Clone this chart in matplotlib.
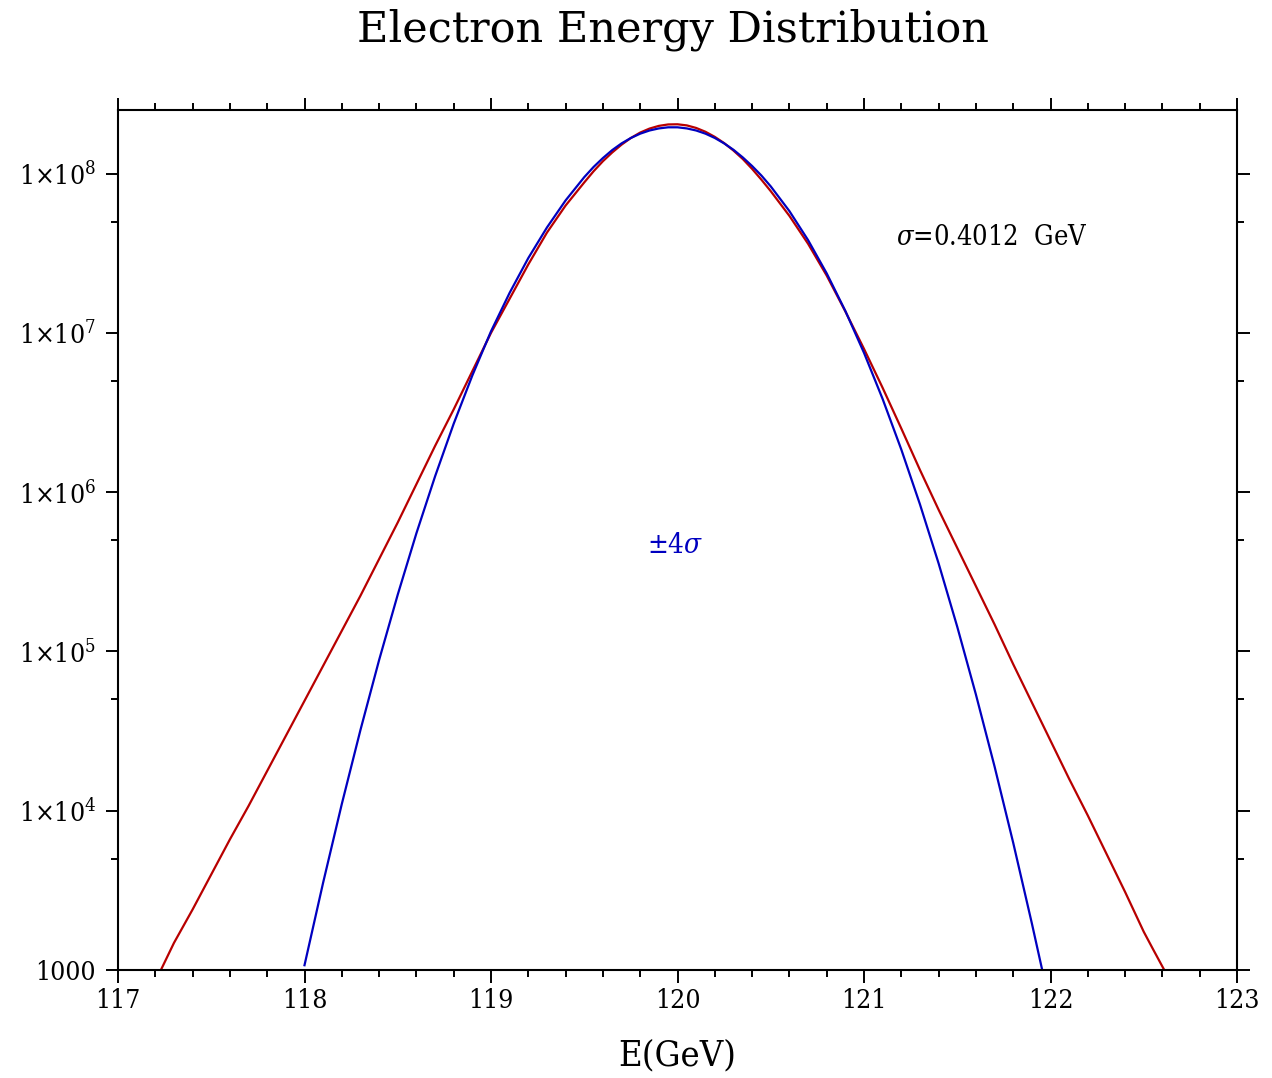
import numpy as np
import matplotlib
matplotlib.use("Agg")
import matplotlib.pyplot as plt
from matplotlib.ticker import FixedLocator, LogLocator, FuncFormatter, MultipleLocator

# energy [GeV] and log10(counts)
red_e = [117.23, 117.30, 117.40, 117.50, 117.60, 117.70, 117.80, 117.90,
         118.00, 118.10, 118.20, 118.30, 118.40, 118.50, 118.60, 118.70,
         118.80, 118.90, 119.00, 119.10, 119.20, 119.30, 119.40, 119.50,
         119.55, 119.60, 119.65, 119.70, 119.75, 119.80, 119.85, 119.90,
         119.95, 120.00, 120.05, 120.10, 120.15, 120.20, 120.25, 120.30,
         120.35, 120.40, 120.45, 120.50, 120.60, 120.70, 120.80, 120.90,
         121.00, 121.10, 121.20, 121.30, 121.40, 121.50, 121.60, 121.70,
         121.80, 121.90, 122.00, 122.10, 122.20, 122.30, 122.40, 122.50,
         122.55, 122.61]
red_log = [3.000, 3.170, 3.380, 3.600, 3.820, 4.030, 4.250, 4.470,
           4.690, 4.910, 5.130, 5.350, 5.580, 5.810, 6.050, 6.290,
           6.520, 6.760, 7.000, 7.215, 7.430, 7.630, 7.800, 7.945,
           8.015, 8.078, 8.133, 8.182, 8.224, 8.258, 8.283, 8.300,
           8.309, 8.310, 8.303, 8.287, 8.263, 8.231, 8.192, 8.145,
           8.092, 8.030, 7.962, 7.890, 7.735, 7.560, 7.360, 7.135,
           6.900, 6.655, 6.400, 6.140, 5.890, 5.650, 5.410, 5.170,
           4.920, 4.680, 4.440, 4.200, 3.970, 3.730, 3.490, 3.240,
           3.130, 3.000]

blue_e = [118.00, 118.10, 118.20, 118.30, 118.40, 118.50, 118.60, 118.70,
          118.80, 118.90, 119.00, 119.10, 119.20, 119.30, 119.40, 119.50,
          119.55, 119.60, 119.65, 119.70, 119.75, 119.80, 119.85, 119.90,
          119.95, 120.00, 120.05, 120.10, 120.15, 120.20, 120.25, 120.30,
          120.35, 120.40, 120.45, 120.50, 120.60, 120.70, 120.80, 120.90,
          121.00, 121.10, 121.20, 121.30, 121.40, 121.50, 121.60, 121.70,
          121.80, 121.90, 121.955]
blue_log = [3.030, 3.549, 4.042, 4.507, 4.946, 5.357, 5.742, 6.099,
            6.430, 6.733, 7.010, 7.252, 7.470, 7.662, 7.832, 7.978,
            8.042, 8.098, 8.148, 8.190, 8.224, 8.251, 8.271, 8.284,
            8.291, 8.291, 8.284, 8.271, 8.251, 8.224, 8.190, 8.150,
            8.102, 8.048, 7.988, 7.920, 7.765, 7.583, 7.374, 7.138,
            6.875, 6.585, 6.268, 5.924, 5.553, 5.155, 4.730, 4.278,
            3.799, 3.293, 3.003]

x_ticks = [117, 118, 119, 120, 121, 122, 123]
y_ticks = [1e3, 1e4, 1e5, 1e6, 1e7, 1e8]

RED = "#b80000"
BLUE = "#0000c0"

plt.rcParams["font.family"] = ["DejaVu Serif"]
plt.rcParams["font.stretch"] = "condensed"
plt.rcParams["mathtext.fontset"] = "dejavuserif"


def ylabel_fmt(v, pos):
    e = int(round(np.log10(v)))
    if e == 3:
        return "1000"
    return r"$1{\times}10^{%d}$" % e


def main():
    fig = plt.figure(figsize=(12.72, 10.78), dpi=100)
    ax = fig.add_axes([118 / 1272, 108 / 1078, 1119 / 1272, 860 / 1078])

    ax.plot(red_e, 10 ** np.array(red_log), color=RED, lw=1.6)
    ax.plot(blue_e, 10 ** np.array(blue_log), color=BLUE, lw=1.6)

    ax.set_yscale("log")
    ax.set_xlim(117, 123)
    ax.set_ylim(1e3, 2.51e8)

    ax.xaxis.set_major_locator(FixedLocator(x_ticks))
    ax.xaxis.set_minor_locator(MultipleLocator(0.2))
    ax.yaxis.set_major_locator(FixedLocator(y_ticks))
    ax.yaxis.set_minor_locator(LogLocator(base=10, subs=[5.0]))
    ax.yaxis.set_major_formatter(FuncFormatter(ylabel_fmt))
    ax.yaxis.set_minor_formatter(FuncFormatter(lambda v, p: ""))

    ax.tick_params(which="both", direction="out", top=True, right=True,
                   width=1.4, labelsize=19, colors="black")
    ax.tick_params(which="major", length=9)
    ax.tick_params(which="minor", length=5)
    ax.tick_params(axis="x", pad=4)
    ax.tick_params(axis="y", pad=7)
    for s in ax.spines.values():
        s.set_linewidth(1.5)

    ax.set_xlabel("E(GeV)", fontsize=26, labelpad=18)
    fig.text(673 / 1272, 1 - 30 / 1078, "Electron Energy Distribution",
             fontsize=31, fontstretch="normal", ha="center", va="center")

    ax.text(121.17, 4.0e7, r"$\sigma$=0.4012  GeV", fontsize=19.5,
            ha="left", va="center")
    ax.text(119.99, 4.6e5, r"$\pm4\sigma$", fontsize=20, color=BLUE,
            ha="center", va="center")

    fig.savefig("out.png", dpi=100)


if __name__ == "__main__":
    main()
